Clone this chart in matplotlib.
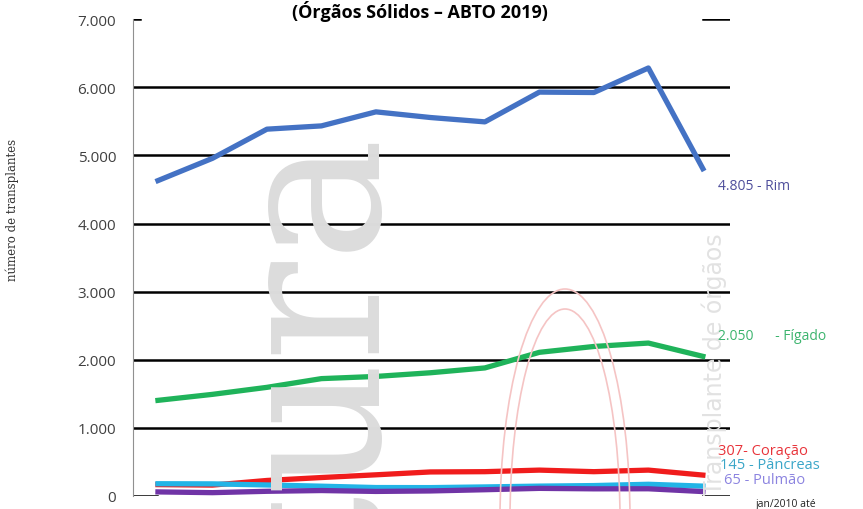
import numpy as np
import matplotlib.pyplot as plt
from matplotlib.patches import Ellipse

anos = ['2010', '2011', '2012', '2013', '2014', '2015', '2016', '2017', '2018', '2019', '2020']
rim = [4630, 4957, 5385, 5433, 5639, 5556, 5492, 5929, 5923, 6283, 4805]
figado = [1404, 1492, 1595, 1723, 1755, 1809, 1880, 2109, 2195, 2245, 2050]
coracao = [167, 160, 228, 271, 311, 353, 357, 380, 357, 380, 307]
pancreas = [180, 178, 162, 144, 124, 123, 133, 145, 153, 172, 145]
pulmao = [60, 49, 69, 80, 67, 74, 92, 112, 105, 106, 65]

yticks = [0, 1000, 2000, 3000, 4000, 5000, 6000, 7000]
ylabels = ['0', '1.000', '2.000', '3.000', '4.000', '5.000', '6.000', '7.000']

fig = plt.figure(figsize=(8.63, 5.10), dpi=100)
ax = fig.add_axes([0.154, 0.0255, 0.692, 0.935])

# marca d'agua
fig.text(0.36, 1 - 125 / 510, 'Leitura', rotation=90, rotation_mode='anchor',
         ha='right', va='center', fontsize=150, family='DejaVu Serif',
         color='#dcdcdc', zorder=0)
fig.text(0.828, 0.03, 'Transplante de órgãos', rotation=90, rotation_mode='anchor',
         ha='left', va='center', fontsize=17, color='#e2e2e2', zorder=0)
for w, h in [(130, 460), (110, 420)]:
    fig.patches.append(Ellipse((565 / 863, 1 - 520 / 510), w / 863, h / 510,
                               transform=fig.transFigure, fill=False,
                               ec='#f5c4c4', lw=1.2, zorder=0))

x = np.arange(len(anos))
ax.plot(x, rim, color='#4472c4', lw=3.8, zorder=5)
ax.plot(x, figado, color='#1fb35a', lw=3.8, zorder=5)
ax.plot(x, coracao, color='#f01c1c', lw=3.8, zorder=4)
ax.plot(x, pancreas, color='#22b4e6', lw=3.8, zorder=4)
ax.plot(x, pulmao, color='#7034a6', lw=3.8, zorder=5)

ax.set_xlim(-0.46, 10.5)
ax.set_ylim(0, 7000)
ax.set_xticks([])
ax.set_yticks(yticks)
ax.set_yticklabels(ylabels)
ax.tick_params(axis='y', length=0, pad=12, labelsize=11, labelcolor='#404040')
for lab in ax.get_yticklabels():
    lab.set_family('Open Sans')

for v in yticks[1:-1]:
    ax.axhline(v, color='black', lw=1.8, zorder=2)
ax.axhline(0, xmin=0, xmax=0.04, color='black', lw=1.8, zorder=2)
ax.axhline(0, xmin=0.955, xmax=1, color='black', lw=1.8, zorder=2)
ax.axhline(7000, xmin=0, xmax=0.012, color='black', lw=1.8, zorder=2)
ax.axhline(7000, xmin=0.955, xmax=1, color='black', lw=1.8, zorder=2)

for s in ['top', 'right', 'bottom']:
    ax.spines[s].set_visible(False)
ax.spines['left'].set_color('#909090')
ax.spines['left'].set_linewidth(0.8)
ax.patch.set_alpha(0)

fig.text(0.487, 0.999, '(Órgãos Sólidos – ABTO 2019)', ha='center', va='top',
         fontsize=13, fontweight='bold', family='Open Sans', color='black')
fig.text(12 / 863, 1 - 210 / 510, 'número de transplantes', rotation=90,
         ha='center', va='center', fontsize=8.5, family='DejaVu Serif', color='#333333')

fig.text(718 / 863, 1 - 187 / 510, '4.805 - Rim', ha='left', va='center',
         fontsize=10, family='Open Sans', color='#4f4f9c')
fig.text(718 / 863, 1 - 336 / 510, '2.050      - Fígado', ha='left', va='center',
         fontsize=10, family='Open Sans', color='#3cb46e')
fig.text(718 / 863, 1 - 452 / 510, '307- Coração', ha='left', va='center',
         fontsize=10.5, family='Open Sans', color='#e8333a')
fig.text(720 / 863, 1 - 466 / 510, '145 - Pâncreas', ha='left', va='center',
         fontsize=10.5, family='Open Sans', color='#3aa6c8')
fig.text(724 / 863, 1 - 481 / 510, '65 - Pulmão', ha='left', va='center',
         fontsize=10.5, family='Open Sans', color='#8c84e0')
fig.text(756 / 863, 1 - 505 / 510, 'jan/2010 até', ha='left', va='center',
         fontsize=7.5, family='Open Sans', color='#222222')

fig.savefig('out.png', dpi=100)
